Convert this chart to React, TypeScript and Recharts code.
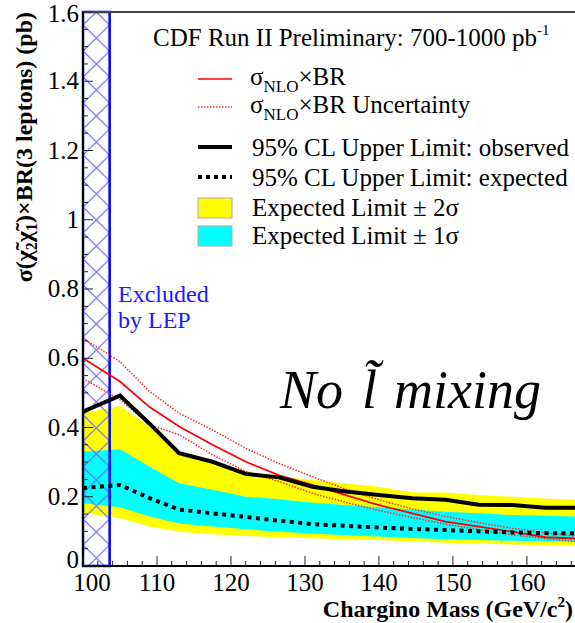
import React from 'react';
import { ComposedChart, Line, Area, XAxis, YAxis, ReferenceArea, ReferenceLine } from 'recharts';

// Chargino mass points (GeV/c^2)
const masses = [100, 105, 109, 113, 117.5, 122, 126.5, 131, 135.5, 140, 144.5, 149, 153.5, 158, 162.5, 167];
// 95% CL upper limit, observed (pb)
const observed = [0.446, 0.492, 0.411, 0.326, 0.301, 0.266, 0.256, 0.229, 0.215, 0.205, 0.196, 0.191, 0.177, 0.176, 0.168, 0.168];
// 95% CL upper limit, expected (pb)
const expected = [0.225, 0.234, 0.196, 0.163, 0.152, 0.142, 0.131, 0.121, 0.116, 0.111, 0.107, 0.104, 0.100, 0.097, 0.095, 0.094];
// expected limit +-2 sigma band
const band2Hi = [0.442, 0.462, 0.403, 0.330, 0.301, 0.273, 0.258, 0.249, 0.238, 0.229, 0.212, 0.212, 0.205, 0.200, 0.195, 0.191];
const band2Lo = [0.154, 0.138, 0.114, 0.099, 0.092, 0.087, 0.082, 0.080, 0.077, 0.075, 0.071, 0.067, 0.065, 0.062, 0.060, 0.058];
// expected limit +-1 sigma band
const band1Hi = [0.330, 0.337, 0.287, 0.239, 0.220, 0.200, 0.193, 0.183, 0.176, 0.170, 0.163, 0.157, 0.152, 0.147, 0.145, 0.143];
const band1Lo = [0.181, 0.170, 0.143, 0.123, 0.114, 0.106, 0.099, 0.094, 0.089, 0.085, 0.081, 0.077, 0.075, 0.073, 0.071, 0.070];
// sigma_NLO x BR and its uncertainty
const nlo = [0.600, 0.533, 0.459, 0.403, 0.350, 0.301, 0.262, 0.234, 0.205, 0.176, 0.152, 0.128, 0.114, 0.099, 0.083, 0.079];
const nloUp = [0.658, 0.590, 0.504, 0.441, 0.393, 0.340, 0.296, 0.258, 0.222, 0.191, 0.165, 0.143, 0.125, 0.109, 0.096, 0.085];
const nloDown = [0.542, 0.480, 0.408, 0.379, 0.321, 0.273, 0.244, 0.210, 0.184, 0.160, 0.140, 0.121, 0.105, 0.090, 0.079, 0.070];

// LEP exclusion region
const lepLimit = [100, 103.6];

// axis ticks
const xTicks = [100, 102, 104, 106, 108, 110, 112, 114, 116, 118, 120, 122, 124, 126, 128, 130, 132, 134, 136, 138, 140, 142, 144, 146, 148, 150, 152, 154, 156, 158, 160, 162, 164, 166];
const xLabels = [100, 110, 120, 130, 140, 150, 160];
const yTicks = [0, 0.05, 0.1, 0.15, 0.2, 0.25, 0.3, 0.35, 0.4, 0.45, 0.5, 0.55, 0.6, 0.65, 0.7, 0.75, 0.8, 0.85, 0.9, 0.95, 1, 1.05, 1.1, 1.15, 1.2, 1.25, 1.3, 1.35, 1.4, 1.45, 1.5, 1.55, 1.6];
const yLabels = ['0', '0.2', '0.4', '0.6', '0.8', '1', '1.2', '1.4', '1.6'];

const data = masses.map((m, i) => ({
  m,
  obs: observed[i],
  exp: expected[i],
  b2: [band2Lo[i], band2Hi[i]],
  b1: [band1Lo[i], band1Hi[i]],
  nlo: nlo[i],
  nloUp: nloUp[i],
  nloDown: nloDown[i],
}));

const SERIF = "'Liberation Serif', 'Times New Roman', Times, 'DejaVu Serif', serif";
const T = { fontFamily: SERIF } as React.CSSProperties;

const XTick = (props: any) => {
  const { x, y, payload } = props;
  const v = payload.value;
  const major = xLabels.includes(v);
  return (
    <g>
      <line x1={x} x2={x} y1={y} y2={y - (major ? 10 : 5)} stroke="#222" strokeWidth={1} />
      {major && (
        <text x={x + (v === 100 ? 9 : 0)} y={y + 25} textAnchor="middle" fontSize={25} style={T} fill="#000">
          {v}
        </text>
      )}
    </g>
  );
};

const YTick = (props: any) => {
  const { x, y, payload } = props;
  const v = payload.value;
  const label = String(Math.round(v * 10) / 10);
  const major = Math.abs(v * 5 - Math.round(v * 5)) < 1e-6 && yLabels.includes(label);
  const dy = v === 0 ? 2 : label === '1.6' ? 10 : 8;
  return (
    <g>
      <line x1={x} x2={x + (major ? 10 : 5)} y1={y} y2={y} stroke="#222" strokeWidth={1} />
      {major && (
        <text x={x - 4} y={y + dy} textAnchor="end" fontSize={25} style={T} fill="#000">
          {label}
        </text>
      )}
    </g>
  );
};

const Overlay = () => (
  <svg width={575} height={623} style={{ position: 'absolute', left: 0, top: 0, pointerEvents: 'none' }}>
    {/* header */}
    <text x={153} y={46} fontSize={25} style={T} fill="#000">
      CDF Run II Preliminary: 700-1000 pb
      <tspan fontSize={15} dy={-11}>-1</tspan>
    </text>
    {/* legend */}
    <line x1={198} x2={232} y1={79} y2={79} stroke="#ff0000" strokeWidth={1.6} />
    <text x={250} y={85} fontSize={25} style={T} fill="#000">
      σ<tspan fontSize={17} dy={7}>NLO</tspan><tspan dy={-7}>×BR</tspan>
    </text>
    <line x1={198} x2={232} y1={107} y2={107} stroke="#ff2a2a" strokeWidth={1.4} strokeDasharray="1.5 1.5" />
    <text x={250} y={113} fontSize={25} style={T} fill="#000">
      σ<tspan fontSize={17} dy={7}>NLO</tspan><tspan dy={-7}>×BR Uncertainty</tspan>
    </text>
    <line x1={198} x2={232} y1={147} y2={147} stroke="#000" strokeWidth={4} />
    <text x={252} y={156} fontSize={25} style={T} fill="#000">95% CL Upper Limit: observed</text>
    <line x1={198} x2={232} y1={177} y2={177} stroke="#000" strokeWidth={4} strokeDasharray="4 4" />
    <text x={252} y={186} fontSize={25} style={T} fill="#000">95% CL Upper Limit: expected</text>
    <rect x={198} y={198} width={34} height={20} fill="#ffff00" stroke="#aaa" strokeWidth={1} />
    <text x={252} y={216} fontSize={25} style={T} fill="#000">Expected Limit ± 2σ</text>
    <rect x={198} y={226} width={34} height={20} fill="#00ffff" stroke="#aaa" strokeWidth={1} />
    <text x={252} y={244} fontSize={25} style={T} fill="#000">Expected Limit ± 1σ</text>
    {/* annotations */}
    <text x={118} y={302} fontSize={24} style={T} fill="#1a1aff">Excluded</text>
    <text x={118} y={328} fontSize={24} style={T} fill="#1a1aff">by LEP</text>
    <text x={280} y={408} fontSize={54} fontStyle="italic" style={T} fill="#000">No</text>
    <text x={362} y={408} fontSize={54} fontStyle="italic" style={T} fill="#000">{'l\u0303'}</text>
    <text x={394} y={408} fontSize={54} fontStyle="italic" style={T} fill="#000">mixing</text>
    {/* axis titles */}
    <text x={573} y={617} textAnchor="end" fontSize={24} fontWeight="bold" style={T} fill="#000">
      Chargino Mass (GeV/c<tspan fontSize={15} dy={-10}>2</tspan><tspan dy={10}>)</tspan>
    </text>
    <text transform="translate(32,12) rotate(-90)" textAnchor="end" fontSize={24} fontWeight="bold" style={T} fill="#000">
      σ(χ̃<tspan fontSize={16} dy={5}>2</tspan><tspan dy={-5}>χ̃</tspan><tspan fontSize={16} dy={5}>1</tspan><tspan dy={-5}>)×BR(3 leptons) (pb)</tspan>
    </text>
  </svg>
);

export default function App() {
  return (
    <div style={{ position: 'absolute', left: 0, top: 0, width: 575, height: 623, background: '#fff' }}>
      <ComposedChart width={575} height={623} data={data} margin={{ top: 12, right: 0, left: 0, bottom: 0 }}>
        <defs>
          <pattern id="hatch" patternUnits="userSpaceOnUse" x={83} y={-1} width={26.6} height={26}>
            <line x1={0} y1={0} x2={26.6} y2={26} stroke="#6a6aff" strokeWidth={1.2} />
            <line x1={26.6} y1={0} x2={0} y2={26} stroke="#6a6aff" strokeWidth={1.2} />
          </pattern>
        </defs>
        <XAxis
          dataKey="m"
          type="number"
          domain={[100, 166.5]}
          allowDataOverflow
          ticks={xTicks}
          interval={0}
          tickSize={0}
          tickMargin={0}
          tick={<XTick />}
          height={57}
          axisLine={{ stroke: '#000', strokeWidth: 2 }}
          tickLine={false}
        />
        <YAxis
          type="number"
          domain={[0, 1.6]}
          allowDataOverflow
          ticks={yTicks}
          interval={0}
          tickSize={0}
          tickMargin={0}
          tick={<YTick />}
          width={83}
          axisLine={{ stroke: '#000', strokeWidth: 2 }}
          tickLine={false}
        />
        <ReferenceLine y={1.6} stroke="#444" strokeWidth={2} />
        <Area dataKey="b2" type="linear" fill="#ffff00" fillOpacity={1} stroke="none" isAnimationActive={false} />
        <Area dataKey="b1" type="linear" fill="#00ffff" fillOpacity={1} stroke="none" isAnimationActive={false} />
        <Line dataKey="nloUp" type="linear" stroke="#ff2a2a" strokeWidth={1.5} strokeDasharray="1.5 1.5" dot={false} isAnimationActive={false} />
        <Line dataKey="nloDown" type="linear" stroke="#ff2a2a" strokeWidth={1.5} strokeDasharray="1.5 1.5" dot={false} isAnimationActive={false} />
        <Line dataKey="nlo" type="linear" stroke="#ff0000" strokeWidth={1.8} dot={false} isAnimationActive={false} />
        <Line dataKey="exp" type="linear" stroke="#000" strokeWidth={4} strokeDasharray="4 4.5" dot={false} isAnimationActive={false} />
        <Line dataKey="obs" type="linear" stroke="#000" strokeWidth={4} dot={false} isAnimationActive={false} />
        <ReferenceArea x1={lepLimit[0]} x2={lepLimit[1]} y1={0} y2={1.6} fill="url(#hatch)" fillOpacity={1} stroke="#0000ff" strokeWidth={2.5} />
      </ComposedChart>
      <Overlay />
    </div>
  );
}
